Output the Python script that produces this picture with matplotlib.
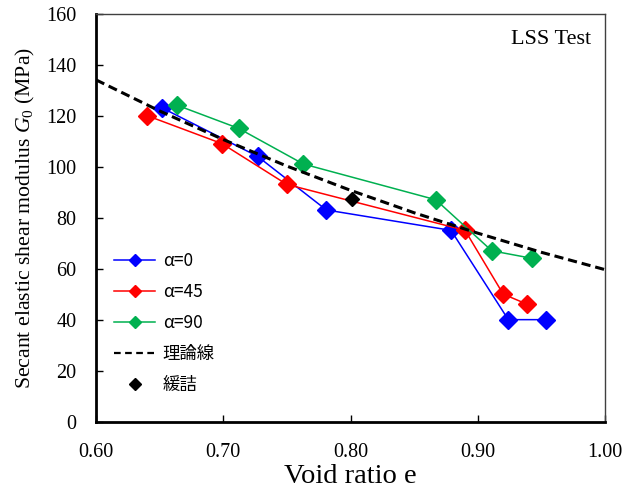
import matplotlib
matplotlib.use("Agg")
import matplotlib.pyplot as plt
from matplotlib.lines import Line2D

plt.rcParams['font.family'] = ['Liberation Serif', 'DejaVu Serif']
plt.rcParams['mathtext.fontset'] = 'custom'
plt.rcParams['mathtext.rm'] = 'Liberation Serif'
plt.rcParams['mathtext.it'] = 'Liberation Serif:italic'

# data
e_a0 = [0.652, 0.727, 0.781, 0.879, 0.924, 0.954]
g_a0 = [123, 104, 83, 75, 40, 40]
e_a45 = [0.640, 0.699, 0.750, 0.890, 0.920, 0.939]
g_a45 = [120, 109, 93, 75, 50, 46]
e_a90 = [0.664, 0.712, 0.763, 0.867, 0.911, 0.943]
g_a90 = [124, 115, 101, 87, 67, 64]
e_loose = [0.801]
g_loose = [87.4]
e_theory = [0.60, 0.65, 0.70, 0.75, 0.80, 0.85, 0.90, 0.95, 1.00]
g_theory = [134.0, 121.8, 110.6, 100.2, 90.7, 81.9, 73.9, 66.4, 59.6]

labels = ['α=0', 'α=45', 'α=90', '理論線', '緩詰']
xticks = [0.60, 0.70, 0.80, 0.90, 1.00]
yticks = [0, 20, 40, 60, 80, 100, 120, 140, 160]

fig = plt.figure(figsize=(6.34, 4.90), dpi=100)
ax = fig.add_axes([0.1514, 0.1394, 0.8029, 0.8330])

blue, red, green = '#0000FF', '#FF0000', '#00B050'
ms = 9.5
ax.plot(e_a0, g_a0, color=blue, lw=1.1, marker='D', ms=ms, zorder=3)
ax.plot(e_a45, g_a45, color=red, lw=1.1, marker='D', ms=ms, zorder=3)
ax.plot(e_a90, g_a90, color=green, lw=1.1, marker='D', ms=ms, zorder=3)
ax.plot(e_theory, g_theory, color='black', lw=2.2, ls=(0, (3, 1.6)), zorder=4)
ax.plot(e_loose, g_loose, color='black', lw=0, marker='D', ms=7, zorder=5)

ax.set_xlim(0.60, 1.00)
ax.set_ylim(0, 160)
ax.set_xticks(xticks)
ax.set_xticklabels([f'{v:.2f}' for v in xticks])
ax.set_yticks(yticks)
ax.tick_params(direction='in', length=5, width=1, labelsize=14.5)
ax.tick_params(axis='x', pad=15)
ax.tick_params(axis='y', pad=14)

for s in ['left', 'bottom']:
    ax.spines[s].set_linewidth(2.0)
for s in ['top', 'right']:
    ax.spines[s].set_linewidth(1.0)
    ax.spines[s].set_color('#404040')

ax.set_xlabel('Void ratio e', fontsize=20.5, labelpad=2)
ax.set_ylabel('Secant elastic shear modulus $G_0$ (MPa)', fontsize=15.7, labelpad=7)

ax.text(0.972, 0.96, 'LSS Test', transform=ax.transAxes, ha='right', va='top', fontsize=16)

handles = [
    Line2D([], [], color=blue, lw=1.1, marker='D', ms=6),
    Line2D([], [], color=red, lw=1.1, marker='D', ms=6),
    Line2D([], [], color=green, lw=1.1, marker='D', ms=6),
    Line2D([], [], color='black', lw=1.6, ls=(0, (3, 2))),
    Line2D([], [], color='black', lw=0, marker='D', ms=6),
]
leg = ax.legend(handles, labels, loc='lower left', bbox_to_anchor=(0.005, 0.03),
                frameon=False, prop={'family': ['Noto Sans CJK JP', 'DejaVu Sans'], 'size': 12.5},
                handlelength=2.35, labelspacing=0.74, handletextpad=0.45)

fig.savefig('out.png', dpi=100)
